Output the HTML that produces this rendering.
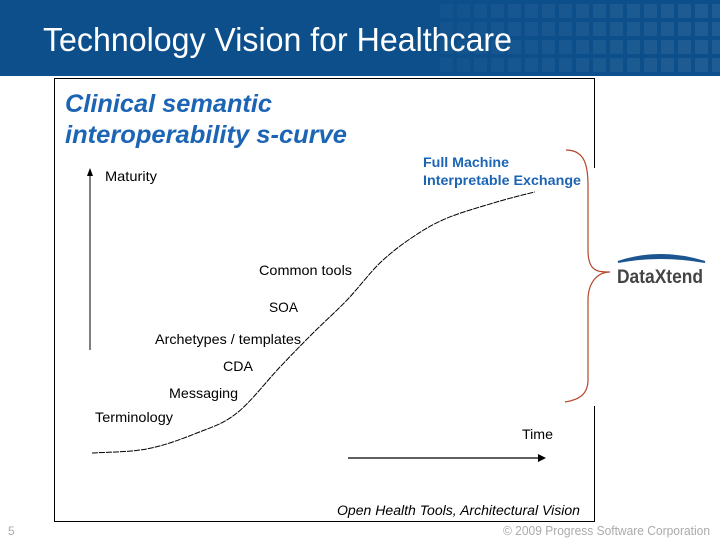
<!DOCTYPE html>
<html><head><meta charset="utf-8"><style>
body{margin:0;width:720px;height:540px;overflow:hidden;background:#fff;font-family:"Liberation Sans",sans-serif;position:relative}
#hdr{position:absolute;left:0;top:0;width:720px;height:76px;background:#0d4f8b}
svg text{font-family:"Liberation Sans",sans-serif}
</style></head><body>
<div id="hdr">
<svg width="720" height="76" style="position:absolute;left:0;top:0">
<g id="sq"></g>
<text x="43" y="51" font-size="33" fill="#fff" textLength="469" lengthAdjust="spacingAndGlyphs">Technology Vision for Healthcare</text>
</svg></div>
<svg id="chart" width="720" height="540" style="position:absolute;left:0;top:0">
<rect x="54.5" y="78.5" width="540" height="443" fill="none" stroke="#000" stroke-width="1"/>
<rect x="588" y="168" width="12" height="238" fill="#fff"/>
<text x="65" y="112" font-size="25" font-weight="bold" font-style="italic" fill="#1c64b4" textLength="207" lengthAdjust="spacingAndGlyphs">Clinical semantic</text>
<text x="65" y="143" font-size="25" font-weight="bold" font-style="italic" fill="#1c64b4" textLength="282" lengthAdjust="spacingAndGlyphs">interoperability s-curve</text>
<line x1="90" y1="350" x2="90" y2="172" stroke="#000" stroke-width="1"/>
<polygon points="87,176 93,176 90,168" fill="#000"/>
<text x="105" y="181" font-size="14" textLength="52" lengthAdjust="spacingAndGlyphs">Maturity</text>
<line x1="348" y1="458" x2="540" y2="458" stroke="#000" stroke-width="1.3"/>
<polygon points="538,454 546,458 538,462" fill="#000"/>
<text x="522" y="439" font-size="14" textLength="31" lengthAdjust="spacingAndGlyphs">Time</text>
<text x="423" y="167" font-size="14" font-weight="bold" fill="#1c64b4" textLength="86" lengthAdjust="spacingAndGlyphs">Full Machine</text>
<text x="423" y="185" font-size="14" font-weight="bold" fill="#1c64b4" textLength="158" lengthAdjust="spacingAndGlyphs">Interpretable Exchange</text>
<text x="259" y="275" font-size="14" textLength="93" lengthAdjust="spacingAndGlyphs">Common tools</text>
<text x="269" y="312" font-size="14" textLength="29" lengthAdjust="spacingAndGlyphs">SOA</text>
<text x="155" y="344" font-size="14" textLength="146" lengthAdjust="spacingAndGlyphs">Archetypes / templates</text>
<text x="223" y="371" font-size="14" textLength="30" lengthAdjust="spacingAndGlyphs">CDA</text>
<text x="169" y="398" font-size="14" textLength="69" lengthAdjust="spacingAndGlyphs">Messaging</text>
<text x="95" y="422" font-size="14" textLength="78" lengthAdjust="spacingAndGlyphs">Terminology</text>
<path d="M566,150 C590,150 588,175 588,200 L588,250 C588,272 598,272 610,272 C598,272 588,282 588,300 L588,380 C588,395 578,400 565,402" fill="none" stroke="#b5462a" stroke-width="1.2"/>
<path d="M618,262 Q660,248 705,262 Q660,254 618,262Z" fill="#1c5590" stroke="#1c5590" stroke-width="2"/>
<text x="617" y="283" font-size="19" font-weight="bold" fill="#444" textLength="86" lengthAdjust="spacingAndGlyphs">DataXtend</text>
<text x="337" y="515" font-size="13.5" font-style="italic" textLength="243" lengthAdjust="spacingAndGlyphs">Open Health Tools, Architectural Vision</text>
<text x="8" y="535" font-size="12" fill="#aaa">5</text>
<text x="503" y="535" font-size="13" fill="#aaa" textLength="207" lengthAdjust="spacingAndGlyphs">© 2009 Progress Software Corporation</text>
</svg>
<script>
const timeVals=[0,1.22,2.33,3.22,4.18,4.91,5.67,6.40,7.13,7.89,9.0,9.84];
const maturityVals=[0,0.15,0.74,1.48,3.19,4.44,5.67,7.04,8.0,8.7,9.3,9.67];
const xS=t=>92+t*45, yS=m=>453-m*27;
const svg=document.getElementById('chart');
const ns='http://www.w3.org/2000/svg';
let pts=timeVals.map((t,i)=>[xS(t),yS(maturityVals[i])]);
let d='M'+pts[0][0]+','+pts[0][1];
for(let i=0;i<pts.length-1;i++){const p0=pts[i-1]||pts[i],p1=pts[i],p2=pts[i+1],p3=pts[i+2]||p2;
d+=` C${p1[0]+(p2[0]-p0[0])/6},${p1[1]+(p2[1]-p0[1])/6} ${p2[0]-(p3[0]-p1[0])/6},${p2[1]-(p3[1]-p1[1])/6} ${p2[0]},${p2[1]}`;}
const path=document.createElementNS(ns,'path');
path.setAttribute('d',d);path.setAttribute('fill','none');path.setAttribute('stroke','#000');path.setAttribute('stroke-width','1');path.setAttribute('stroke-dasharray','6 1');


svg.appendChild(path);
const g=document.getElementById('sq');
for(let c=0;c<20;c++)for(let r=0;r<4;r++){const x=440+c*17,y=4+r*18;if(x>720)continue;
const rc=document.createElementNS(ns,'rect');rc.setAttribute('x',x);rc.setAttribute('y',y);rc.setAttribute('width',13);rc.setAttribute('height',14);
rc.setAttribute('fill','rgba(255,255,255,'+(0.03+0.06*(c/20))+')');g.appendChild(rc);}
</script>
</body></html>
